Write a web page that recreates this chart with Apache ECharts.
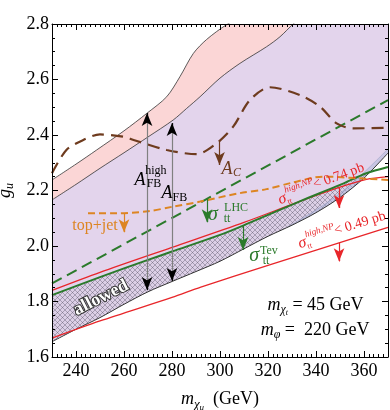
<!DOCTYPE html>
<html>
<head>
<meta charset="utf-8">
<script src="https://cdn.jsdelivr.net/npm/echarts@6/dist/echarts.min.js"></script>
<style>
html, body { margin: 0; padding: 0; background: #fff; }
#main { width: 390px; height: 410px; }
</style>
</head>
<body>
<div id="main"></div>
<script>
var myChart = echarts.init(document.getElementById('main'));
var serif = 'Liberation Serif';

// curves: [m_chi_u (GeV), g_u]
var afbHigh = [[230, 2.238], [240, 2.295], [248.6, 2.346], [260, 2.415], [269.5, 2.478], [277.8, 2.538],
    [283.3, 2.61], [288.9, 2.694], [294.4, 2.744], [302.8, 2.798], [310, 2.83], [330, 2.9], [370, 3.05]];
var afb = [[230, 2.166], [240, 2.222], [250, 2.28], [260, 2.336], [270, 2.393], [280.5, 2.454], [286, 2.495],
    [291.7, 2.538], [300, 2.605], [308.3, 2.658], [319.4, 2.718], [325, 2.754], [330.5, 2.8], [340, 2.87], [370, 3.05]];
var lowerEdge = [[230, 1.655], [240, 1.70], [250, 1.742], [260, 1.79], [270, 1.835], [280, 1.872], [290, 1.908],
    [300, 1.945], [310, 1.99], [320, 2.035], [330, 2.075], [340, 2.12], [350, 2.175], [360, 2.245], [370, 2.335]];
var blueTop = [[328, 2.068], [340, 2.13], [350, 2.19], [360, 2.265], [370, 2.35]];
var sigmaTev = [[230, 1.823], [250, 1.888], [270, 1.95], [280, 1.98], [300, 2.04], [310, 2.075], [333, 2.16],
    [350, 2.22], [361, 2.262], [370, 2.285]];
var sigmaLhc = [[230, 1.865], [370, 2.526]];
var red074 = [[230, 1.84], [250, 1.905], [280, 1.995], [310, 2.085], [333, 2.16], [350, 2.212], [361, 2.24], [370, 2.25]];
var red049 = [[230, 1.668], [250, 1.73], [280, 1.815], [292, 1.852], [320, 1.93], [345, 1.999], [370, 2.067]];
var topJet = [[245, 2.118], [257, 2.118], [270, 2.125], [280.5, 2.142], [291.7, 2.16], [308, 2.19], [319.4, 2.205],
    [330, 2.228], [343, 2.25], [358, 2.244], [370, 2.238]];
var ac = [[230, 2.262], [236, 2.346], [243, 2.382], [250, 2.402], [259.7, 2.394], [264, 2.382], [277.8, 2.346],
    [290.3, 2.331], [298.6, 2.37], [305.5, 2.43], [312.5, 2.526], [320.8, 2.572], [333.3, 2.544], [341.7, 2.502],
    [348.6, 2.442], [355.5, 2.424], [370, 2.426]];

// arrows: [x, g_u from, g_u to]
var afbHighArrow = [269.6, 1.841, 2.479];
var afbArrow = [280, 1.874, 2.443];
var acArrow = [299.8, 2.382, 2.292];
var topJetArrow = [260, 2.119, 2.05];
var lhcArrow = [294.6, 2.171, 2.086];
var tevArrow = [309.6, 2.075, 1.986];
var red074Arrow = [349.6, 2.21, 2.137];
var red049Arrow = [349.6, 2.012, 1.945];

var xTicks = [240, 260, 280, 300, 320, 340, 360];

var red = '#e8262a', green = '#2b7a2b', brown = '#6e3b1e', orange = '#dd8522';

function hatch() {
    var c = document.createElement('canvas');
    c.width = 5; c.height = 5;
    var g = c.getContext('2d');
    g.fillStyle = '#dccfe6';
    g.fillRect(0, 0, 5, 5);
    g.strokeStyle = 'rgba(70,65,85,0.6)';
    g.lineWidth = 0.6;
    g.beginPath();
    g.moveTo(0, 0); g.lineTo(5, 5);
    g.moveTo(5, 0); g.lineTo(0, 5);
    g.stroke();
    return c;
}

function fill(data, color) {
    return {
        type: 'line', data: data, smooth: 0.3, showSymbol: false, silent: true,
        lineStyle: { width: 0 }, areaStyle: { color: color, opacity: 1, origin: 'start' }
    };
}
function curve(data, color, width, type, smooth) {
    return {
        type: 'line', data: data, smooth: smooth, showSymbol: false, silent: true,
        lineStyle: { color: color, width: width, type: type }
    };
}
// vertical arrow: shaft plus a short head segment at the tip (and at the start if both)
function arrow(a, shaftColor, headColor, both) {
    var dir = a[2] > a[1] ? 1 : -1;
    var items = [[
        { coord: [a[0], a[1]], symbol: 'none', lineStyle: { color: shaftColor, width: 1.2, type: 'solid' } },
        { coord: [a[0], a[2]], symbol: 'none' }
    ], [
        { coord: [a[0], a[2] - dir * 0.02], symbol: 'none', lineStyle: { color: headColor, width: 1.2, type: 'solid' } },
        { coord: [a[0], a[2]], symbol: 'arrow' }
    ]];
    if (both) {
        items.push([
            { coord: [a[0], a[1] + dir * 0.02], symbol: 'none', lineStyle: { color: headColor, width: 1.2, type: 'solid' } },
            { coord: [a[0], a[1]], symbol: 'arrow' }
        ]);
    }
    return {
        type: 'line', data: [], silent: true,
        markLine: {
            silent: true, animation: false, symbolSize: [8, 13], label: { show: false },
            emphasis: { disabled: true }, data: items
        }
    };
}

var tickFont = { fontFamily: serif, fontSize: 18, color: '#000' };

function xAxis(pos, minor) {
    return {
        type: 'value', min: 230, max: 370, position: pos, z: 10,
        interval: minor ? 2 : undefined,
        axisLine: { show: !minor, lineStyle: { color: '#000', width: 1 } },
        axisTick: minor ? { inside: true, length: 3, lineStyle: { color: '#000' } }
            : { inside: true, length: 6, customValues: xTicks, lineStyle: { color: '#000' } },
        axisLabel: (pos === 'bottom' && !minor)
            ? Object.assign({ customValues: xTicks, margin: 5 }, tickFont) : { show: false },
        splitLine: { show: false }
    };
}
function yAxis(pos) {
    return {
        type: 'value', min: 1.6, max: 2.8, interval: 0.2, position: pos, z: 10,
        axisLine: { show: true, lineStyle: { color: '#000', width: 1 } },
        axisTick: { inside: true, length: 6, lineStyle: { color: '#000' } },
        minorTick: { show: true, splitNumber: 4, length: 3, lineStyle: { color: '#000' } },
        axisLabel: pos === 'left' ? Object.assign({
            margin: 3, formatter: function (v) { return v.toFixed(1); }
        }, tickFont) : { show: false },
        splitLine: { show: false }
    };
}

var xMain = xAxis('bottom', false);
xMain.name = '{m|m}{c|χ}{u|u}{n|  (GeV)}';
xMain.nameLocation = 'middle';
xMain.nameGap = 30;
xMain.nameTextStyle = {
    rich: {
        m: { fontFamily: serif, fontSize: 18, fontStyle: 'italic', color: '#000' },
        c: { fontFamily: serif, fontSize: 13, fontStyle: 'italic', color: '#000', padding: [10, 0, 0, 0] },
        u: { fontFamily: serif, fontSize: 9, fontStyle: 'italic', color: '#000', padding: [16, 0, 0, 0] },
        n: { fontFamily: serif, fontSize: 18, color: '#000' }
    }
};
var yMain = yAxis('left');
yMain.name = '{g|g}{u|u}';
yMain.nameLocation = 'middle';
yMain.nameRotate = 90;
yMain.nameGap = 35;
yMain.nameTextStyle = {
    rich: {
        g: { fontFamily: serif, fontSize: 18, fontStyle: 'italic', color: '#000' },
        u: { fontFamily: serif, fontSize: 12, fontStyle: 'italic', color: '#000', padding: [9, 0, 0, 0] }
    }
};

option = {
    animation: false,
    backgroundColor: '#fff',
    grid: { left: 52, right: 2, top: 24, bottom: 53, containLabel: false, outerBoundsMode: 'none' },
    xAxis: [xMain, xAxis('bottom', true), xAxis('top', false), xAxis('top', true)],
    yAxis: [yMain, yAxis('right')],
    series: [
        fill(afbHigh, '#fbd6d6'),
        fill(afb, '#e3d4ec'),
        fill(sigmaTev, { image: hatch(), repeat: 'repeat' }),
        fill(blueTop, 'rgba(160,175,215,0.4)'),
        fill(lowerEdge, '#ffffff'),
        curve(afbHigh, '#333', 0.8, 'solid', 0.3),
        curve(afb, '#333', 0.8, 'solid', 0.3),
        curve(blueTop, '#9aa3c4', 0.6, 'solid', 0.3),
        curve(lowerEdge, '#333', 1, 'solid', 0.3),
        curve(red049, red, 1.3, 'solid', 0.3),
        curve(red074, red, 1.3, 'solid', 0.3),
        curve(sigmaTev, green, 2, 'solid', 0.3),
        curve(sigmaLhc, green, 2, [11, 6], false),
        curve(topJet, orange, 2, [7, 4], 0.3),
        curve(ac, brown, 2.2, [12, 7], 0.3),
        arrow(afbHighArrow, '#808080', '#000', true),
        arrow(afbArrow, '#808080', '#000', true),
        arrow(acArrow, brown, brown, false),
        arrow(topJetArrow, orange, orange, false),
        arrow(lhcArrow, green, green, false),
        arrow(tevArrow, green, green, false),
        arrow(red074Arrow, red, red, false),
        arrow(red049Arrow, red, red, false)
    ]
};
myChart.setOption(option);

// text annotations, placed at data coordinates
function px(x, y) {
    return myChart.convertToPixel({ xAxisIndex: 0, yAxisIndex: 0 }, [x, y]);
}
function tstyle(text, size, color, italic, align) {
    return {
        text: text, fontFamily: serif, fontSize: size, fontStyle: italic ? 'italic' : 'normal',
        fill: color, align: align || 'center', verticalAlign: 'middle'
    };
}
var graphics = [];
function label(x, y, text, size, color, italic) {
    var p = px(x, y);
    graphics.push({ type: 'text', x: p[0], y: p[1], z: 100, silent: true, style: tstyle(text, size, color, italic) });
}
function redLabel(x, y, value, angle) {
    var p = px(x, y);
    graphics.push({
        type: 'group', x: p[0], y: p[1], rotation: angle * Math.PI / 180, z: 100, silent: true,
        children: [
            { type: 'text', z: 100, x: 0, y: 1, style: tstyle('σ', 16, red, true) },
            { type: 'text', z: 100, x: 4, y: 6, style: tstyle('tt', 8, red, false, 'left') },
            { type: 'text', z: 100, x: 5, y: -6, style: tstyle('high,NP', 9, red, true, 'left') },
            { type: 'text', z: 100, x: 34, y: -1, style: tstyle('< ' + value + ' pb', 14, red, false, 'left') }
        ]
    });
}

label(266.7, 2.238, 'A', 18, '#000', true);
label(273.3, 2.270, 'high', 12, '#000', false);
label(272.5, 2.223, 'FB', 12, '#000', false);
label(277.9, 2.191, 'A', 18, '#000', true);
label(283.3, 2.173, 'FB', 12, '#000', false);
label(302.9, 2.277, 'A', 18, brown, true);
label(307.1, 2.263, 'C', 12, brown, true);
label(247.9, 2.072, 'top+jet', 16, orange, false);
label(297.1, 2.112, 'σ', 20, green, true);
label(306.7, 2.137, 'LHC', 12, green, false);
label(302.9, 2.097, 'tt', 12, green, false);
label(314.2, 1.964, 'σ', 20, green, true);
label(320.4, 1.982, 'Tev', 12, green, false);
label(319.2, 1.946, 'tt', 12, green, false);
redLabel(325.8, 2.173, '0.74', 20);
redLabel(334.2, 2.014, '0.49', 17);

var pa = px(250.4, 1.813);
graphics.push({
    type: 'text', x: pa[0], y: pa[1], rotation: 27 * Math.PI / 180, z: 100, silent: true,
    style: {
        text: 'allowed', fontFamily: serif, fontSize: 18, fontWeight: 'bold', fill: '#fff',
        stroke: '#333', lineWidth: 2, align: 'center', verticalAlign: 'middle'
    }
});

var massRich = {
    m: { fontFamily: serif, fontSize: 18, fontStyle: 'italic', fill: '#000', color: '#000' },
    c: { fontFamily: serif, fontSize: 12, fontStyle: 'italic', fill: '#000', color: '#000', padding: [9, 0, 0, 0] },
    t: { fontFamily: serif, fontSize: 8, fontStyle: 'italic', fill: '#000', color: '#000', padding: [15, 0, 0, 0] },
    n: { fontFamily: serif, fontSize: 18, fill: '#000', color: '#000' }
};
var pm1 = px(339.8, 1.787), pm2 = px(339.6, 1.697);
graphics.push({
    type: 'text', x: pm1[0], y: pm1[1], z: 100, silent: true,
    style: { text: '{m|m}{c|χ}{t|t}{n| = 45 GeV}', rich: massRich, align: 'center', verticalAlign: 'middle' }
});
graphics.push({
    type: 'text', x: pm2[0], y: pm2[1], z: 100, silent: true,
    style: { text: '{m|m}{c|φ}{n| =  220 GeV}', rich: massRich, align: 'center', verticalAlign: 'middle' }
});

myChart.setOption({ graphic: graphics });
</script>
</body>
</html>
